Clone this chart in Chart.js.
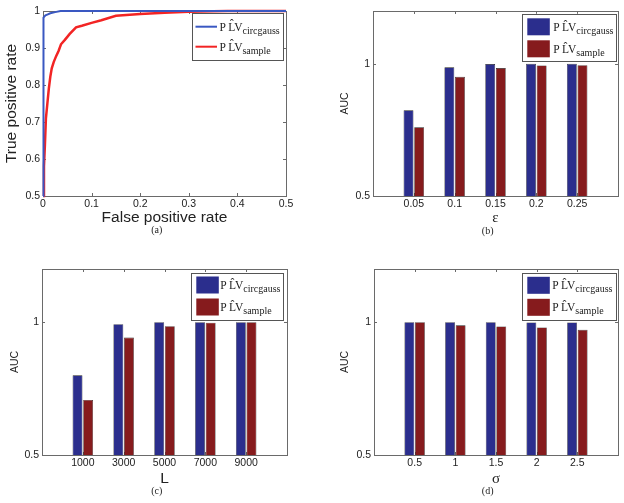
<!DOCTYPE html>
<html>
<head>
<meta charset="utf-8">
<title>AUC panels</title>
<script src="https://cdn.jsdelivr.net/npm/chart.js@4.4.1/dist/chart.umd.min.js"></script>
<style>
  html, body { margin: 0; padding: 0; background: #fff; }
  body { position: relative; width: 624px; height: 503px; overflow: hidden; }
  .panel { position: absolute; }
</style>
</head>
<body>
<div class="panel" style="left:0;top:0;width:312px;height:250px"><canvas id="roc"></canvas></div>
<div class="panel" style="left:312px;top:0;width:312px;height:250px"><canvas id="eps"></canvas></div>
<div class="panel" style="left:0;top:250px;width:312px;height:253px"><canvas id="len"></canvas></div>
<div class="panel" style="left:312px;top:250px;width:312px;height:253px"><canvas id="sig"></canvas></div>
<script>
// (a) ROC curves
const rocCircFpr = [0, 0, 0.002, 0.005, 0.01, 0.015, 0.025, 0.036, 0.5];
const rocCircTpr = [0.5, 0.975, 0.982, 0.988, 0.991, 0.994, 0.997, 1, 1];
const rocSampleFpr = [0, 0.002, 0.004, 0.006, 0.009, 0.012, 0.015, 0.018, 0.022, 0.027, 0.032, 0.037, 0.045, 0.055, 0.068, 0.08, 0.1, 0.12, 0.15, 0.2, 0.25, 0.3, 0.35, 0.38, 0.5];
const rocSampleTpr = [0.5, 0.58, 0.64, 0.71, 0.75, 0.79, 0.822, 0.845, 0.862, 0.878, 0.892, 0.91, 0.922, 0.938, 0.956, 0.96, 0.968, 0.975, 0.987, 0.992, 0.995, 0.998, 0.999, 1, 1];
const rocXTicks = [0, 0.1, 0.2, 0.3, 0.4, 0.5];
const rocYTicks = [0.5, 0.6, 0.7, 0.8, 0.9, 1];

// (b) AUC vs epsilon
const epsLabels = ['0.05', '0.1', '0.15', '0.2', '0.25'];
const epsCirc = [0.824, 0.987, 0.999, 1, 1];
const epsSample = [0.76, 0.951, 0.984, 0.994, 0.995];

// (c) AUC vs L
const lenLabels = ['1000', '3000', '5000', '7000', '9000'];
const lenCirc = [0.80, 0.992, 1, 1, 1];
const lenSample = [0.707, 0.942, 0.985, 0.998, 1];

// (d) AUC vs sigma
const sigLabels = ['0.5', '1', '1.5', '2', '2.5'];
const sigCirc = [1, 1, 1, 0.999, 0.999];
const sigSample = [1, 0.988, 0.984, 0.98, 0.971];

const aucTicks = [0.5, 1];
const legendBase = 'P\u2009L\u0302V';
const legendSubs = ['circgauss', 'sample'];

const SANS = "'Liberation Sans', Arial, sans-serif";
const SERIF = "'Liberation Serif', 'Times New Roman', serif";
const BLUE_BAR = '#2b2e8d', RED_BAR = '#861b1d';
const BLUE_LINE = '#3a58c2', RED_LINE = '#f22424';
const AXIS = '#6a6a6a';

Chart.defaults.font.family = SANS;
Chart.defaults.color = '#222';

// matlab style box, inward ticks, legend with subscripts, caption
const matBox = {
  id: 'matBox',
  beforeDatasetsDraw(chart) {
    const { ctx, chartArea: a, scales } = chart;
    const t = 3;
    ctx.save();
    ctx.strokeStyle = AXIS;
    ctx.lineWidth = 1;
    ctx.beginPath();
    scales.x.ticks.forEach((tk, i) => {
      const px = Math.round(scales.x.getPixelForTick(i)) + 0.5;
      ctx.moveTo(px, a.bottom); ctx.lineTo(px, a.bottom - t);
      ctx.moveTo(px, a.top); ctx.lineTo(px, a.top + t);
    });
    scales.y.ticks.forEach((tk, i) => {
      const py = Math.round(scales.y.getPixelForTick(i)) + 0.5;
      ctx.moveTo(a.left, py); ctx.lineTo(a.left + t, py);
      ctx.moveTo(a.right, py); ctx.lineTo(a.right - t, py);
    });
    ctx.stroke();
    ctx.strokeRect(Math.round(a.left) + 0.5, Math.round(a.top) + 0.5,
      Math.round(a.right - a.left), Math.round(a.bottom - a.top));
    ctx.restore();
  },
  afterDraw(chart, args, o) {
    const { ctx, chartArea: a } = chart;
    const left = a.right - o.dr - o.w, top = a.top + o.dt;
    ctx.save();
    ctx.fillStyle = '#fff';
    ctx.fillRect(left, top, o.w, o.h);
    ctx.strokeStyle = '#555';
    ctx.lineWidth = 1;
    ctx.strokeRect(Math.round(left) + 0.5, Math.round(top) + 0.5, Math.round(o.w), Math.round(o.h));
    chart.data.datasets.forEach((ds, i) => {
      const cy = top + o.rows[i];
      if (o.kind === 'line') {
        ctx.strokeStyle = ds.borderColor;
        ctx.lineWidth = 2;
        ctx.beginPath();
        ctx.moveTo(left + 3.5, cy); ctx.lineTo(left + 25, cy);
        ctx.stroke();
      } else {
        ctx.fillStyle = ds.backgroundColor;
        ctx.fillRect(left + 5, cy - 8.5, 22.5, 17);
      }
      ctx.fillStyle = '#222';
      ctx.textAlign = 'left';
      ctx.textBaseline = 'alphabetic';
      ctx.font = '11.5px ' + SERIF;
      const tx = left + o.tx;
      ctx.fillText(legendBase, tx, cy + 4);
      const w = ctx.measureText(legendBase).width;
      ctx.font = '10px ' + SERIF;
      ctx.fillText(legendSubs[i], tx + w, cy + 7);
    });
    ctx.fillStyle = '#222';
    ctx.font = '10px ' + SERIF;
    ctx.textAlign = 'center';
    ctx.textBaseline = 'middle';
    ctx.fillText(o.caption, o.cx, o.cy);
    ctx.restore();
  }
};

function pinAxis(size, horizontal) {
  return function (scale) {
    if (horizontal) scale.height = size; else scale.width = size;
  };
}

function setTicks(values) {
  return function (scale) {
    scale.ticks = values.map(v => ({ value: v }));
  };
}

// geometry: g = {W, H, L, T, R, B} chart area inside its panel
function baseOptions(g, xTitle, yTitle, box) {
  return {
    responsive: true,
    maintainAspectRatio: false,
    animation: false,
    layout: { padding: { left: 0, top: g.T, right: g.W - g.R, bottom: 0 } },
    plugins: { legend: { display: false }, tooltip: { enabled: false }, matBox: box },
    scales: {
      x: {
        type: 'linear',
        offset: false,
        grid: { display: false, drawTicks: false },
        border: { display: false },
        afterFit: pinAxis(g.H - g.B, true),
        ticks: { autoSkip: false, maxRotation: 0, padding: 2, font: { size: 10.5 } },
        title: xTitle
      },
      y: {
        type: 'linear',
        grid: { display: false, drawTicks: false },
        border: { display: false },
        afterFit: pinAxis(g.L, false),
        ticks: { autoSkip: false, padding: 3, font: { size: 10.5 } },
        title: yTitle
      }
    }
  };
}

// (a)
const rocOpts = baseOptions(
  { W: 312, H: 250, L: 43, T: 11, R: 286, B: 196 },
  { display: true, text: 'False positive rate', font: { size: 15.5 }, padding: { top: 0, bottom: 23 } },
  { display: true, text: 'True positive rate', font: { size: 15.5 }, padding: { top: 2.5, bottom: 0 } },
  { kind: 'line', w: 91, h: 47, dr: 3, dt: 2, rows: [13.7, 33.7], tx: 27.5, caption: '(a)', cx: 156.7, cy: 230 }
);
rocOpts.scales.x.min = 0; rocOpts.scales.x.max = 0.5;
rocOpts.scales.x.afterBuildTicks = setTicks(rocXTicks);
rocOpts.scales.x.ticks.callback = v => String(v);
rocOpts.scales.y.min = 0.5; rocOpts.scales.y.max = 1;
rocOpts.scales.y.afterBuildTicks = setTicks(rocYTicks);
rocOpts.scales.y.ticks.callback = v => String(v);

new Chart(document.getElementById('roc'), {
  type: 'line',
  data: {
    datasets: [
      { label: legendBase + ' circgauss', data: rocCircFpr.map((f, i) => ({ x: f, y: rocCircTpr[i] })),
        borderColor: BLUE_LINE, borderWidth: 2, pointRadius: 0, tension: 0, clip: 4 },
      { label: legendBase + ' sample', data: rocSampleFpr.map((f, i) => ({ x: f, y: rocSampleTpr[i] })),
        borderColor: RED_LINE, borderWidth: 2.5, pointRadius: 0, tension: 0, clip: 4 }
    ]
  },
  options: rocOpts,
  plugins: [matBox]
});

// (b), (c), (d)
function barChart(id, labels, circ, sample, g, xTitle, yPad, box) {
  const opts = baseOptions(g, xTitle,
    { display: true, text: 'AUC', font: { size: 10.5 }, padding: { top: yPad, bottom: 0 } }, box);
  opts.scales.x.min = 0; opts.scales.x.max = labels.length + 1;
  opts.scales.x.afterBuildTicks = setTicks(labels.map((l, i) => i + 1));
  opts.scales.x.ticks.callback = (v, i) => labels[i];
  opts.scales.y.min = 0.5; opts.scales.y.max = 1.2;
  opts.scales.y.afterBuildTicks = setTicks(aucTicks);
  opts.scales.y.ticks.callback = v => String(v);
  const bar = (vals, color, sub) => ({
    label: legendBase + ' ' + sub,
    data: vals.map((v, i) => ({ x: i + 1, y: v })),
    backgroundColor: color, borderColor: '#202020', borderWidth: 0.6,
    base: 0.5, categoryPercentage: 0.52, barPercentage: 0.93
  });
  new Chart(document.getElementById(id), {
    type: 'bar',
    data: { datasets: [bar(circ, BLUE_BAR, legendSubs[0]), bar(sample, RED_BAR, legendSubs[1])] },
    options: opts,
    plugins: [matBox]
  });
}

barChart('eps', epsLabels, epsCirc, epsSample,
  { W: 312, H: 250, L: 61, T: 11, R: 306, B: 196 },
  { display: true, text: '\u03b5', font: { size: 15, family: SERIF }, padding: { top: 0, bottom: 23 } },
  27,
  { kind: 'bar', w: 94, h: 47, dr: 1.7, dt: 2.8, rows: [13, 35], tx: 31, caption: '(b)', cx: 175.7, cy: 231.7 });

barChart('len', lenLabels, lenCirc, lenSample,
  { W: 312, H: 253, L: 42, T: 19, R: 287, B: 205 },
  { display: true, text: 'L', font: { size: 15.5 }, padding: { top: 0, bottom: 14.5 } },
  8.7,
  { kind: 'bar', w: 92, h: 47, dr: 3.7, dt: 4.3, rows: [11.7, 33.7], tx: 29, caption: '(c)', cx: 156.7, cy: 241.7 });

barChart('sig', sigLabels, sigCirc, sigSample,
  { W: 312, H: 253, L: 62, T: 19, R: 306, B: 205 },
  { display: true, text: '\u03c3', font: { size: 15, family: SERIF }, padding: { top: 0, bottom: 14.7 } },
  27,
  { kind: 'bar', w: 94, h: 47, dr: 1.7, dt: 4.3, rows: [12, 34], tx: 30, caption: '(d)', cx: 175.7, cy: 241.7 });
</script>
</body>
</html>
